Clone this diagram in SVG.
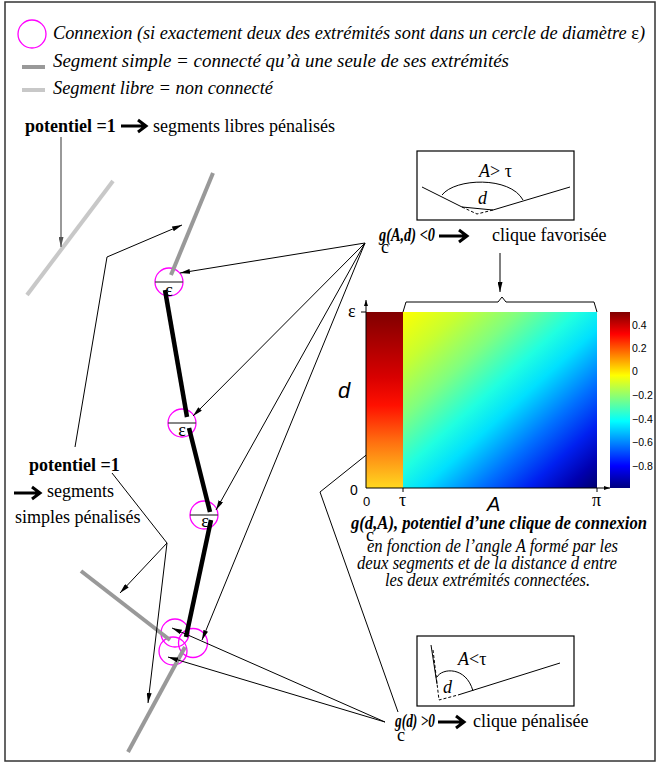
<svg xmlns="http://www.w3.org/2000/svg" width="657" height="763" viewBox="0 0 657 763">
<defs>
<style>
.t{font-family:"Liberation Serif","Times New Roman",serif;font-size:18px;fill:#000}
.i{font-style:italic}
.b{font-weight:bold}
.n{font-style:normal}
.s{font-family:"Liberation Sans",Arial,sans-serif;fill:#000}
.c{fill:none;stroke:#000;stroke-width:1}
.ca{fill:none;stroke:#000;stroke-width:1;marker-end:url(#ah)}
.eps{fill:none;stroke:#ff00ff;stroke-width:1.3}
.dia{stroke:#444;stroke-width:1.3}
.blk{stroke:#000;stroke-width:4.5}
.gry{stroke:#999;stroke-width:4}
.lgt{stroke:#c8c8c8;stroke-width:4}
.big{fill:none;stroke:#000;stroke-width:3}
</style>
<marker id="ah" viewBox="0 0 10 5" refX="10" refY="2.5" markerWidth="10" markerHeight="5" orient="auto" markerUnits="userSpaceOnUse"><path d="M0,0 L10,2.5 L0,5 z" fill="#000"/></marker>
<marker id="ahg" viewBox="0 0 10 5" refX="10" refY="2.5" markerWidth="10" markerHeight="5" orient="auto" markerUnits="userSpaceOnUse"><path d="M0,0 L10,2.5 L0,5 z" fill="#555"/></marker>
<marker id="sah" viewBox="0 0 6 4" refX="6" refY="2" markerWidth="6" markerHeight="4" orient="auto" markerUnits="userSpaceOnUse"><path d="M0,0 L6,2 L0,4 z" fill="#000"/></marker>
<linearGradient id="cb" x1="0" y1="0" x2="0" y2="1">
<stop offset="0" stop-color="#800000"/><stop offset="0.125" stop-color="#ff0000"/><stop offset="0.36" stop-color="#ffff00"/><stop offset="0.62" stop-color="#00ffff"/><stop offset="0.875" stop-color="#0000ff"/><stop offset="1" stop-color="#000080"/>
</linearGradient>
<linearGradient id="rc" x1="0" y1="0" x2="0" y2="1">
<stop offset="0" stop-color="#800000"/><stop offset="0.37" stop-color="#d80000"/><stop offset="0.53" stop-color="#ff1000"/><stop offset="0.74" stop-color="#ff7010"/><stop offset="1" stop-color="#ffd820"/>
</linearGradient>
<linearGradient id="hm" x1="0" y1="0" x2="1" y2="1">
<stop offset="0" stop-color="#ffff00"/><stop offset="0.15" stop-color="#c8ff30"/><stop offset="0.3" stop-color="#80ff80"/><stop offset="0.45" stop-color="#20ffe0"/><stop offset="0.55" stop-color="#00e0ff"/><stop offset="0.7" stop-color="#0070ff"/><stop offset="0.82" stop-color="#0020f0"/><stop offset="0.92" stop-color="#0000b0"/><stop offset="1" stop-color="#000070"/>
</linearGradient>
</defs>
<rect x="5" y="2" width="650" height="759" fill="#fff" stroke="#333" stroke-width="1.5"/>

<g id="legend">
<circle class="eps" cx="32" cy="34" r="14"/>
<text class="t i" x="53" y="39" textLength="592" lengthAdjust="spacingAndGlyphs">Connexion (si exactement deux des extrémités sont dans un cercle de diamètre <tspan class="n">ε</tspan>)</text>
<line x1="22" y1="67" x2="45" y2="67" class="gry"/>
<text class="t i" x="53" y="67" textLength="456" lengthAdjust="spacingAndGlyphs">Segment simple = connecté qu’à une seule de ses extrémités</text>
<line x1="22" y1="90" x2="45" y2="90" class="lgt"/>
<text class="t i" x="53" y="94" textLength="220" lengthAdjust="spacingAndGlyphs">Segment libre = non connecté</text>
</g>

<g id="label-libres">
<text class="t b" x="25" y="132">potentiel =1</text>
<path class="big" d="M121,126 H145 M138,120 L146,126 L138,132"/>
<text class="t" x="153" y="132">segments libres pénalisés</text>
</g>

<g id="label-simples">
<text class="t b" x="29" y="471">potentiel =1</text>
<path class="big" d="M14,493 H39 M32,487 L40,493 L32,499"/>
<text class="t" x="47" y="497">segments</text>
<text class="t" x="15" y="523">simples pénalisés</text>
</g>

<g id="connexions">
<circle class="eps" cx="169" cy="282" r="14"/>
<line class="dia" x1="155" y1="282" x2="183" y2="282"/>
<text class="t" x="169" y="296" text-anchor="middle">ε</text>
<circle class="eps" cx="182" cy="423" r="14"/>
<line class="dia" x1="168" y1="423" x2="196" y2="423"/>
<text class="t" x="182" y="436" text-anchor="middle">ε</text>
<circle class="eps" cx="204" cy="515" r="14"/>
<line class="dia" x1="190" y1="515" x2="218" y2="515"/>
<text class="t" x="205" y="527" text-anchor="middle">ε</text>
<circle class="eps" cx="175" cy="633" r="14"/>
<circle class="eps" cx="193" cy="643" r="14.5"/>
<circle class="eps" cx="173" cy="651" r="14"/>
</g>

<g id="segments">
<line class="lgt" x1="113" y1="181" x2="27" y2="295"/>
<line class="gry" x1="213" y1="173" x2="171" y2="275"/>
<line class="blk" x1="165" y1="290" x2="187" y2="417"/>
<line class="blk" x1="189" y1="428" x2="210" y2="512"/>
<line class="blk" x1="211" y1="520" x2="186" y2="637"/>
<line class="gry" x1="81" y1="571" x2="170" y2="640"/>
<line class="gry" x1="128" y1="752" x2="185" y2="647"/>
</g>

<g id="connectors">
<path d="M61,137 V247" fill="none" stroke="#555" stroke-width="1.2" marker-end="url(#ahg)"/>
<path class="ca" d="M75,447 L107,257 L182,225"/>
<path class="ca" d="M112,473 L167,543 L120,593"/>
<path class="ca" d="M167,543 L148,703"/>
<path class="ca" d="M365,243 L180,273"/>
<path class="ca" d="M365,243 L193,416"/>
<path class="ca" d="M365,243 L216,510"/>
<path class="ca" d="M365,243 L202,640"/>
<path class="ca" d="M385,722 L172,628"/>
<path class="ca" d="M385,722 L168,657"/>
<path class="ca" d="M398,712 L320,492 L380,444"/>
<path class="ca" d="M500,253 V292"/>
<path class="c" d="M403,312 L406,302 H498 L502,297 L506,302 H594 L597,312"/>
</g>

<g id="heatmap">
<rect x="366" y="312" width="37" height="176" fill="url(#rc)"/>
<rect x="403" y="312" width="194" height="176" fill="url(#hm)"/>
<rect x="610" y="312" width="20" height="176" fill="url(#cb)"/>
<path d="M366,488 V300" stroke="#000" stroke-width="1" marker-end="url(#sah)"/>
<path d="M366,488 H610" stroke="#000" stroke-width="1" marker-end="url(#sah)"/>
<path d="M361,312 H366 M403,488 V492 M597,488 V492" stroke="#000" stroke-width="1"/>
<text class="t" x="348" y="317" font-size="15">ε</text>
<text class="s" x="338" y="398" font-size="22" font-style="italic">d</text>
<text class="s" x="350" y="495" font-size="14">0</text>
<text class="s" x="363" y="506" font-size="13">0</text>
<text class="t" x="399" y="506" font-size="16">τ</text>
<text class="t" x="592" y="506" font-size="16">π</text>
<text class="s" x="487" y="511" font-size="20" font-style="italic">A</text>
<g class="s" font-size="10.5">
<text x="632" y="329">0.4</text>
<text x="632" y="352">0.2</text>
<text x="632" y="375">0</text>
<text x="632" y="399">−0.2</text>
<text x="632" y="423">−0.4</text>
<text x="632" y="446">−0.6</text>
<text x="632" y="470">−0.8</text>
</g>
</g>

<g id="caption">
<text class="t b i" x="351" y="529" font-size="16" textLength="296" lengthAdjust="spacingAndGlyphs">g(d,A), potentiel d’une clique de connexion</text>
<text class="t" x="366" y="541" font-size="12">c</text>
<text class="t i" x="367" y="552" font-size="16" textLength="251" lengthAdjust="spacingAndGlyphs">en fonction de l’angle A formé par les</text>
<text class="t i" x="357" y="569" font-size="16" textLength="260" lengthAdjust="spacingAndGlyphs">deux segments et de la distance d entre</text>
<text class="t i" x="385" y="586" font-size="16" textLength="205" lengthAdjust="spacingAndGlyphs">les deux extrémités connectées.</text>
</g>

<g id="box-favorisee">
<rect x="417" y="151" width="157" height="69" fill="none" stroke="#000" stroke-width="1.2"/>
<text class="t" x="479" y="177"><tspan class="i">A</tspan>&gt; τ</text>
<path class="c" d="M422,187 L462,207 L493,210 L570,187"/>
<path class="c" d="M442,195 C455,178 510,176 523,200"/>
<path class="c" d="M462,207 L477,214 L493,210" stroke-dasharray="3,2"/>
<text class="t i" x="478" y="204" font-size="16">d</text>
</g>

<g id="label-favorisee">
<text class="t b i" x="379" y="241" font-size="16" textLength="56" lengthAdjust="spacingAndGlyphs">g(A,d) &lt;0</text>
<text class="t" x="381" y="253" font-size="12">c</text>
<path class="big" d="M439,236 H466 M459,230 L467,236 L459,242"/>
<text class="t" x="492" y="241">clique favorisée</text>
</g>

<g id="box-penalisee">
<rect x="417" y="636" width="157" height="70" fill="none" stroke="#000" stroke-width="1.2"/>
<text class="t" x="458" y="665"><tspan class="i">A</tspan>&lt;τ</text>
<path class="c" d="M431,645 L437,684"/>
<path class="c" d="M458,695 L560,663"/>
<path class="c" d="M437,677 C442,668 466,666 473,691"/>
<path class="c" d="M433,650 L439,700 L458,695" stroke-dasharray="3,2"/>
<text class="t i" x="443" y="693" font-size="16">d</text>
</g>

<g id="label-penalisee">
<text class="t b i" x="395" y="727" font-size="16" textLength="40" lengthAdjust="spacingAndGlyphs">g(d) &gt;0</text>
<text class="t" x="397" y="741" font-size="12">c</text>
<path class="big" d="M438,722 H463 M456,716 L464,722 L456,728"/>
<text class="t" x="473" y="727">clique pénalisée</text>
</g>
</svg>
